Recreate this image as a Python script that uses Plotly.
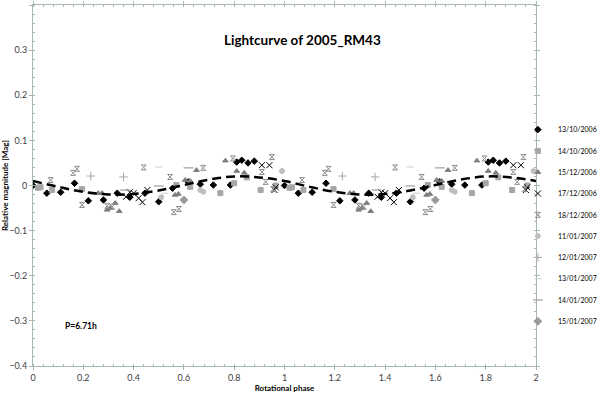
import plotly.graph_objects as go

# ── Data (phase 0-1, repeated at phase 1-2) ──────────────────────────────
d13_10_x = [0.0, 0.055, 0.11, 0.165, 0.22, 0.28, 0.335, 0.385, 0.445, 0.50,
            0.555, 0.617, 0.665, 0.717, 0.785, 0.81, 0.83, 0.855, 0.88]
d13_10_y = [0.0, -0.017, -0.015, 0.005, -0.034, -0.032, -0.017, -0.026, -0.017,
            -0.036, -0.006, 0.008, 0.003, 0.001, 0.001, 0.052, 0.056, 0.05, 0.054]

d14_10_x = [0.02, 0.03, 0.075, 0.195, 0.57, 0.625, 0.745, 0.80, 0.85, 0.905, 0.965]
d14_10_y = [-0.005, -0.004, -0.01, -0.008, 0.001, -0.003, -0.017, 0.005, 0.018,
            -0.01, 0.0]

d15_12_x = [0.26, 0.275, 0.295, 0.307, 0.327, 0.343, 0.565, 0.578, 0.605, 0.625,
            0.65, 0.765, 0.81, 0.84]
d15_12_y = [-0.017, -0.017, -0.054, -0.05, -0.039, -0.057, -0.021, -0.019, 0.012,
            0.01, 0.034, 0.055, 0.032, 0.028]

d17_12_x = [0.37, 0.385, 0.40, 0.42, 0.435, 0.455, 0.91, 0.94, 0.96, 0.965]
d17_12_y = [-0.025, -0.015, -0.017, -0.028, -0.037, -0.01, 0.045, 0.045, -0.01,
            -0.004]

d18_12_x = [0.07, 0.16, 0.175, 0.195, 0.295, 0.315, 0.44, 0.545, 0.56, 0.58,
            0.677, 0.795, 0.91, 0.925, 0.95, 0.955]
d18_12_y = [0.012, 0.028, 0.037, -0.043, -0.045, -0.047, 0.04, 0.019, -0.059,
            -0.052, 0.039, 0.06, 0.03, 0.008, 0.063, -0.008]

d11_01_x = [0.51, 0.665, 0.677, 0.99]
d11_01_y = [-0.026, -0.01, -0.014, 0.032]

d12_01_x = [0.23, 0.36]
d12_01_y = [0.021, 0.019]

d13_01_x = [0.50, 0.525]
d13_01_y = [0.041, -0.017]

d14_01_x = [0.366, 0.50, 0.618]
d14_01_y = [-0.01, -0.001, 0.039]

d15_01_x = [0.60]
d15_01_y = [-0.032]

# fitted curve
fit_x = [0.0, 0.1, 0.2, 0.3, 0.4, 0.5, 0.6, 0.7, 0.8, 0.9, 1.0,
         1.1, 1.2, 1.3, 1.4, 1.5, 1.6, 1.7, 1.8, 1.9, 2.0]
fit_y = [0.010, -0.003, -0.014, -0.020, -0.019, -0.011, 0.001, 0.013, 0.020, 0.018,
         0.010, -0.003, -0.014, -0.020, -0.019, -0.011, 0.001, 0.013, 0.020, 0.018,
         0.010]

series = [
    ("13/10/2006", d13_10_x, d13_10_y, "diamond", "#000000", 5),
    ("14/10/2006", d14_10_x, d14_10_y, "square", "#a6a6a6", 5),
    ("15/12/2006", d15_12_x, d15_12_y, "triangle-up", "#7f7f7f", 5),
    ("17/12/2006", d17_12_x, d17_12_y, "x-thin-open", "#000000", 6),
    ("18/12/2006", d18_12_x, d18_12_y, "hourglass-open", "#8c8c8c", 5),
    ("11/01/2007", d11_01_x, d11_01_y, "circle", "#bfbfbf", 5),
    ("12/01/2007", d12_01_x, d12_01_y, "cross-thin-open", "#a6a6a6", 6),
    ("13/01/2007", d13_01_x, d13_01_y, "line-ew-open", "#cccccc", 5),
    ("14/01/2007", d14_01_x, d14_01_y, "line-ew-open", "#8c8c8c", 7),
    ("15/01/2007", d15_01_x, d15_01_y, "diamond", "#999999", 6),
]

FONT = "Lato, Open Sans, sans-serif"
AXIS = "#a9b6b6"

fig = go.Figure()

for name, xs, ys, sym, col, size in series:
    fig.add_trace(
        go.Scatter(
            x=xs + [v + 1 for v in xs],
            y=ys + ys,
            mode="markers",
            name=name,
            legendgroup=name,  # one group per entry -> tracegroupgap spaces rows
            marker=dict(symbol=sym, color=col, size=size,
                        line=dict(color=col, width=1)),
        )
    )

fig.add_trace(
    go.Scatter(
        x=fit_x, y=fit_y, mode="lines", showlegend=False,
        line=dict(color="#000000", width=2.5, dash="9px,5px", shape="spline"),
    )
)

fig.add_annotation(
    x=0.535, y=0.93, xref="paper", yref="paper", showarrow=False,
    text="<b>Lightcurve of 2005_RM43</b>", font=dict(size=13.5, color="#000"),
)
fig.add_annotation(
    x=0.06, y=0.092, xref="paper", yref="paper", showarrow=False, xanchor="left",
    text="<b>P=6.71h</b>", font=dict(size=8.5, color="#000"),
)

fig.update_layout(
    width=600,
    height=395,
    margin=dict(l=33, r=64, t=5, b=29, autoexpand=False),
    paper_bgcolor="white",
    plot_bgcolor="white",
    font=dict(family=FONT, size=9, color="#404040"),
    legend=dict(x=0.964, y=0.695, xanchor="left", yanchor="top",
                font=dict(size=7, color="#000"), itemwidth=30,
                tracegroupgap=2.3, bgcolor="rgba(0,0,0,0)"),
    xaxis=dict(
        range=[0, 2], dtick=0.2, tickformat="~g",
        showgrid=False, zeroline=False,
        showline=True, linecolor=AXIS, mirror="ticks",
        ticks="outside", ticklen=3, tickcolor=AXIS,
        minor=dict(dtick=0.04, ticks="inside", ticklen=2, tickcolor=AXIS),
        title=dict(text="<b>Rotational phase</b>", font=dict(size=8, color="#000"),
                   standoff=0),
    ),
    yaxis=dict(
        range=[-0.4, 0.4], dtick=0.1, tickformat="~g",
        showgrid=False, zeroline=False,
        showline=True, linecolor=AXIS, mirror="ticks",
        ticks="outside", ticklen=3, tickcolor=AXIS,
        minor=dict(dtick=0.02, ticks="inside", ticklen=2, tickcolor=AXIS),
        title=dict(text="<b>Relative magnitude [Mag]</b>",
                   font=dict(size=8, color="#000"), standoff=5),
    ),
)

# drop the browser's default body margin so the figure sits at the window corner
fig.write_html(
    "out.html",
    config={"displayModeBar": False},
    post_script="document.body.style.margin='0';",
)
